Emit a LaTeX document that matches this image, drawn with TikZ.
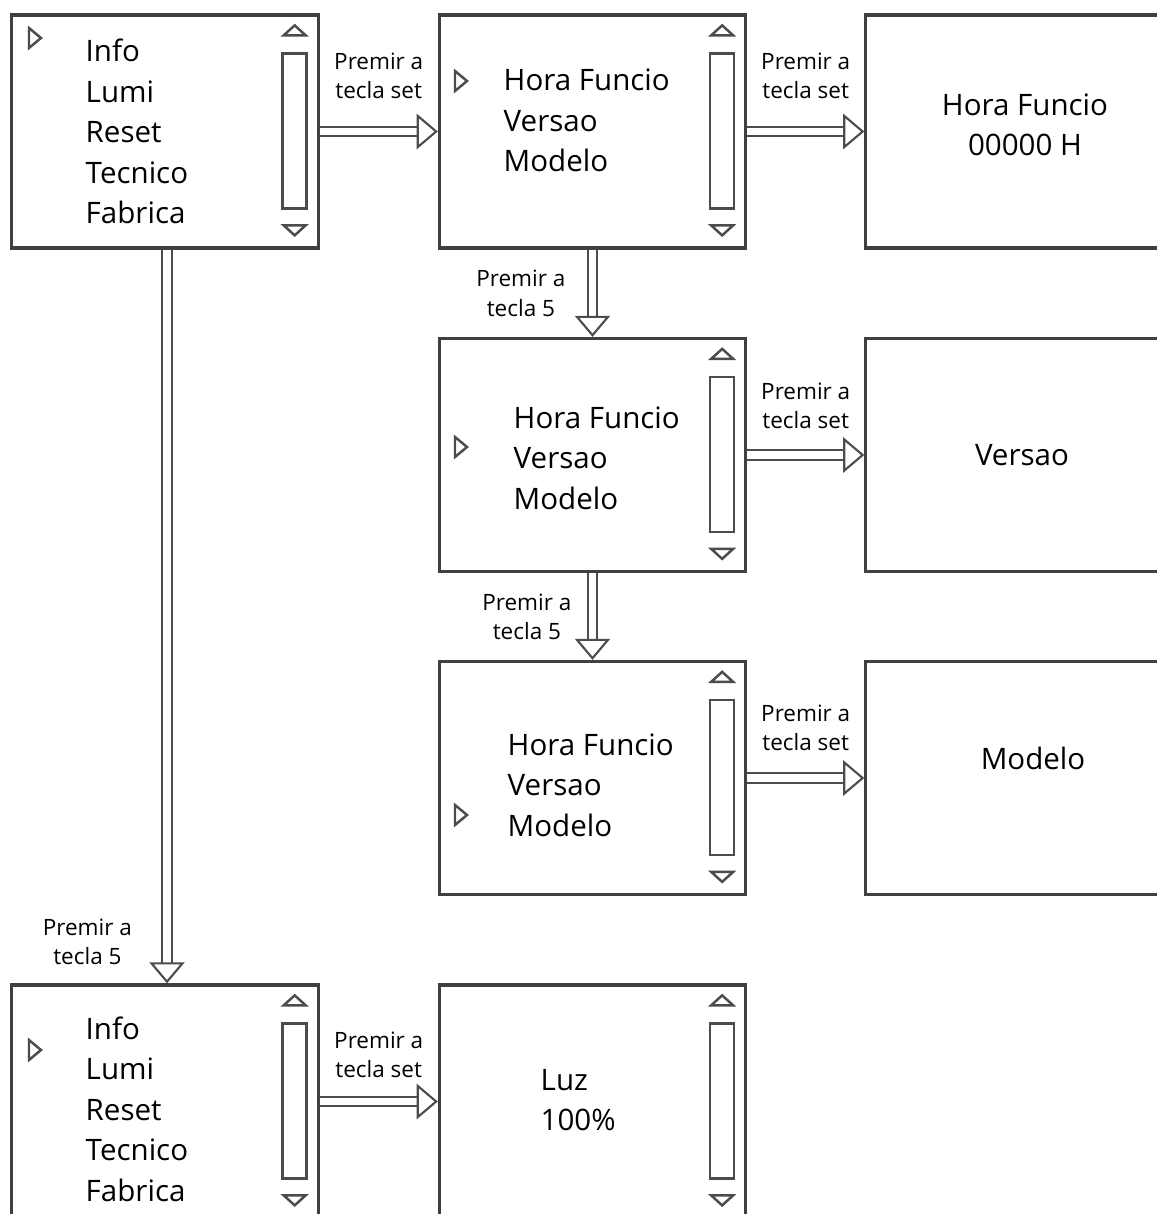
\documentclass[tikz,border=0pt]{standalone}
\usepackage{fontspec}
\setmainfont{Open Sans}
\usetikzlibrary{arrows.meta, positioning, calc}

\tikzset{
  screen/.style={draw=black!75, line width=0.9pt, inner sep=0pt, minimum height=2.33cm},
  menu/.style={screen, minimum width=3.06cm},
  panel/.style={screen, minimum width=3.09cm},
  menutext/.style={font=\fontsize{8.4}{11.5}\selectfont, align=left, inner sep=0pt},
  hint/.style={font=\fontsize{6.4}{8.3}\selectfont, align=center, inner sep=0pt},
  tipline/.style={draw=black!70, line width=0.7pt},
  push/.style={draw=black!70, line width=0.6pt, double=white, double distance=2pt,
    -{Triangle[open, length=6pt, width=10pt]}},
}

% scroll bar at the right side of a menu screen
\newcommand{\scrollbar}[1]{%
  \begin{scope}[shift={(#1.north east)}]
    \draw[tipline] (-36,22) -- (-14,22) -- (-25,12) -- cycle;
    \draw[tipline] (-37,40) rectangle (-13,195);
    \draw[tipline] (-36,212) -- (-14,212) -- (-25,222) -- cycle;
  \end{scope}}
% menu cursor
\newcommand{\cursor}[1]{%
  \draw[tipline] #1 ++(-5,-10) -- ++(12,10) -- ++(-12,10) -- cycle;}

\begin{document}
\begin{tikzpicture}[x=0.01cm, y=-0.01cm]
  \fill[white] (0,0) rectangle (1157,1214);
  \useasboundingbox (0,0) rectangle (1157,1214);

  % Screens
  \node[menu]  (A) at (165,131.5) {};
  \node[menu]  (B) at (592.5,131.5) {};
  \node[panel] (C) at (1020.5,131.5) {};
  \node[menu]  (D) at (592.5,455) {};
  \node[panel] (E) at (1020.5,455) {};
  \node[menu]  (F) at (592.5,778) {};
  \node[panel] (G) at (1020.5,778) {};
  \node[menu]  (H) at (165,1101.5) {};
  \node[menu]  (I) at (592.5,1101.5) {};

  % Scroll bars
  \scrollbar{A}
  \scrollbar{B}
  \scrollbar{D}
  \scrollbar{F}
  \scrollbar{H}
  \scrollbar{I}

  % Cursors
  \cursor{(34,38)}
  \cursor{(460,81)}
  \cursor{(460,447)}
  \cursor{(460,815)}
  \cursor{(34,1050)}

  % Screen texts
  \node[menutext, anchor=west] (tA) at (85,131.5) {Info\\Lumi\\Reset\\Tecnico\\Fabrica};
  \node[menutext, anchor=west] (tB) at (503,120.5) {Hora Funcio\\Versao\\Modelo};
  \node[menutext, align=center] (tC) at (1025,125) {Hora Funcio\\00000 H};
  \node[menutext, anchor=west] (tD) at (513,458) {Hora Funcio\\Versao\\Modelo};
  \node[menutext] (tE) at (1022,455) {Versao};
  \node[menutext, anchor=west] (tF) at (507,785) {Hora Funcio\\Versao\\Modelo};
  \node[menutext] (tG) at (1033,758) {Modelo};
  \node[menutext, anchor=west] (tH) at (85,1109) {Info\\Lumi\\Reset\\Tecnico\\Fabrica};
  \node[menutext, anchor=west] (tI) at (540,1100) {Luz\\100\%};

  % Key presses
  \draw[push] (A.east) -- (B.west) node[hint, midway, above=0.32cm] (kAB) {Premir a\\tecla set};
  \draw[push] (B.east) -- (C.west) node[hint, midway, above=0.32cm] (kBC) {Premir a\\tecla set};
  \draw[push] (D.east) -- (E.west) node[hint, midway, above=0.25cm] (kDE) {Premir a\\tecla set};
  \draw[push] (F.east) -- (G.west) node[hint, midway, above=0.26cm] (kFG) {Premir a\\tecla set};
  \draw[push] (H.east) -- (I.west) node[hint, midway, above=0.23cm] (kHI) {Premir a\\tecla set};
  \draw[push] (B.south) -- (D.north) node[hint, midway, left=0.26cm] (kBD) {Premir a\\tecla 5};
  \draw[push] (D.south) -- (F.north) node[hint, midway, left=0.2cm] (kDF) {Premir a\\tecla 5};
  \draw[push] ([xshift=0.02cm]A.south) -- ([xshift=0.02cm]H.north) node[hint, pos=0.943, left=0.34cm] (kAH) {Premir a\\tecla 5};
\end{tikzpicture}
\end{document}
